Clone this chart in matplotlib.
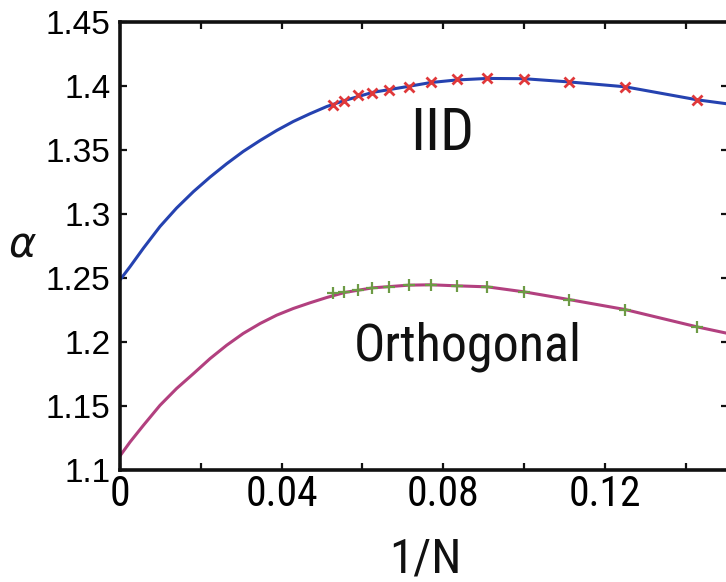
import math
import matplotlib
matplotlib.use("Agg")
import matplotlib.pyplot as plt
from matplotlib import font_manager
from matplotlib.font_manager import FontProperties
from matplotlib.textpath import TextPath

# --- data -------------------------------------------------------------------
# system sizes N of the simulated points (abscissa is 1/N)
n_sizes = [19, 18, 17, 16, 15, 14, 13, 12, 11, 10, 9, 8, 7]

# simulated alpha values
alpha_iid = [1.3849, 1.3883, 1.3927, 1.3945, 1.3966, 1.3992, 1.4027,
             1.4052, 1.4058, 1.4052, 1.4027, 1.3992, 1.3888]
alpha_orth = [1.2378, 1.2386, 1.2404, 1.2422, 1.2430, 1.2443, 1.2448,
              1.2438, 1.2430, 1.2391, 1.2331, 1.2253, 1.2117]

# fitted curves sampled along 1/N
fit_x = [0.0, 0.0025, 0.0058, 0.0099, 0.0140, 0.0182, 0.0223, 0.0264,
         0.0305, 0.0347, 0.0388, 0.0429, 0.0470, 0.0512, 0.0556, 0.0625,
         0.0714, 0.0769, 0.0833, 0.0909, 0.1000, 0.1111, 0.1250, 0.1429,
         0.1505]
fit_iid = [1.2484, 1.2588, 1.2732, 1.2901, 1.3045, 1.3174, 1.3287, 1.3391,
           1.3487, 1.3573, 1.3651, 1.3721, 1.3781, 1.3838, 1.3885, 1.3948,
           1.3995, 1.4025, 1.4045, 1.4057, 1.4055, 1.4030, 1.3992, 1.3890,
           1.3858]
fit_orth = [1.1110, 1.1219, 1.1349, 1.1505, 1.1636, 1.1753, 1.1870, 1.1974,
            1.2066, 1.2144, 1.2209, 1.2261, 1.2305, 1.2347, 1.2386, 1.2422,
            1.2443, 1.2446, 1.2438, 1.2430, 1.2391, 1.2331, 1.2253, 1.2117,
            1.2066]

x_ticks = [0.0, 0.02, 0.04, 0.06, 0.08, 0.10, 0.12, 0.14]
x_tick_labels = ["0", "", "0.04", "", "0.08", "", "0.12", ""]
y_ticks = [1.1, 1.15, 1.2, 1.25, 1.3, 1.35, 1.4, 1.45]
y_tick_labels = ["1.1", "1.15", "1.2", "1.25", "1.3", "1.35", "1.4", "1.45"]

inv_n = [1.0 / n for n in n_sizes]

# --- fonts --------------------------------------------------------------------
SANS_BASES = ("Liberation Sans", "Roboto", "Open Sans", "Noto Sans",
              "DejaVu Sans", "Lato", "Inter")
EXCLUDE = ("Mono", "CJK", "Display", "Symbol", "Math", "Serif")


def _extent(prop, s):
    return TextPath((0, 0), s, size=100, prop=prop).get_extents()


def pick_narrow_sans(sample="Orthogonal", ratio=222 / 38):
    """Installed upright sans whose width/cap-height of `sample` is closest to `ratio`."""
    best, best_err = FontProperties(family="Liberation Sans"), float("inf")
    seen = set()
    for f in font_manager.fontManager.ttflist:
        if f.fname in seen or f.style != "normal":
            continue
        seen.add(f.fname)
        if not any(f.name.startswith(b) for b in SANS_BASES):
            continue
        if any(e in f.name for e in EXCLUDE):
            continue
        if f.weight not in (400, "normal", "regular", "book"):
            continue
        rest = f.name
        for b in SANS_BASES:
            if rest.startswith(b):
                rest = rest[len(b):].strip()
        if rest not in ("", "Narrow", "Condensed", "SemiCondensed",
                        "Semi Condensed", "ExtraCondensed", "Extra Condensed"):
            continue
        prop = FontProperties(fname=f.fname)
        try:
            w = _extent(prop, sample).width
            h = _extent(prop, "O").height
        except Exception:
            continue
        if h <= 0:
            continue
        err = abs(math.log((w / h) / ratio))
        if err < best_err:
            best, best_err = prop, err
    return best


label_font = pick_narrow_sans()


def sized(text, width_px, height_px, cap="O"):
    """Copy of label_font sized so `text` spans roughly width_px x height_px."""
    w100 = _extent(label_font, text).width
    h100 = _extent(label_font, cap).height
    s_w = 72.0 * width_px / w100
    s_h = 72.0 * height_px / h100
    fp = label_font.copy()
    fp.set_size(math.sqrt(s_w * s_h))
    return fp


W, H = 726, 582
fig = plt.figure(figsize=(W / 100, H / 100), dpi=100)
fig.patch.set_facecolor("white")

left_px, right_px, top_px, bottom_px = 120, 728, 21.7, 470
ax = fig.add_axes([left_px / W, 1 - bottom_px / H,
                   (right_px - left_px) / W, (bottom_px - top_px) / H])

ax.plot(fit_x, fit_iid, color="#2542b0", lw=2.2, zorder=2)
ax.plot(fit_x, fit_orth, color="#b2407f", lw=2.2, zorder=2)
ax.plot(inv_n, alpha_iid, ls="none", marker="x", ms=7.5, mew=2.0,
        color="#e0383a", zorder=3)
ax.plot(inv_n, alpha_orth, ls="none", marker="+", ms=9, mew=1.6,
        color="#6d9b45", zorder=3)

ax.set_xlim(0, 0.1505)
ax.set_ylim(1.1, 1.45)

ax.set_xticks(x_ticks)
ax.set_xticklabels(x_tick_labels, fontproperties=sized("0.04", 70, 30, cap="0"))
ax.set_yticks(y_ticks)
ax.set_yticklabels(y_tick_labels, fontfamily="Liberation Sans", fontsize=24)
ax.tick_params(direction="in", length=5, width=1.6, top=True, right=True,
               color="#111111")
ax.tick_params(axis="x", pad=3)
ax.tick_params(axis="y", pad=7)

for s in ax.spines.values():
    s.set_linewidth(2.6)
    s.set_color("#111111")

# axis titles
fig.text(425 / W, 1 - 572 / H, "1/N", fontproperties=sized("1/N", 64, 35, cap="N"),
         ha="center", va="baseline", color="#111111")
fig.text(22 / W, 1 - 244 / H, r"$\alpha$", fontsize=30,
         ha="center", va="center", color="#111111")

# curve annotations
fig.text(442.5 / W, 1 - 150 / H, "IID", fontproperties=sized("IID", 62, 38, cap="I"),
         ha="center", va="baseline", color="#111111")
fig.text(468 / W, 1 - 360.7 / H, "Orthogonal",
         fontproperties=sized("Orthogonal", 222, 38),
         ha="center", va="baseline", color="#111111")

fig.savefig("out.png", dpi=100, facecolor="white")
